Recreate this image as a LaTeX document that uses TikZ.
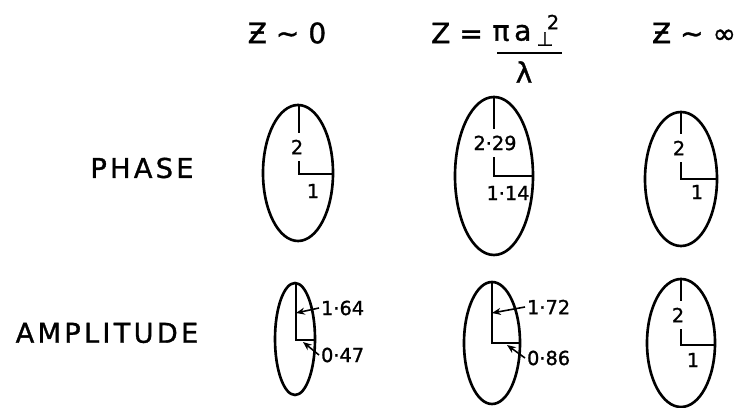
\documentclass[tikz,border=0pt]{standalone}
\usepackage{fontspec}
\setmainfont[FakeBold=1.2]{DejaVu Sans}
\newfontfamily\wideface[LetterSpace=12,FakeBold=1.2]{DejaVu Sans}
\usetikzlibrary{arrows.meta,positioning}

\begin{document}
\begin{tikzpicture}[
  x=0.02cm, y=-0.02cm,
  >={Stealth[length=5pt,width=4pt]},
  rim/.style={line width=1.5pt},
  axis/.style={line width=1.1pt},
  rowlabel/.style={font=\wideface\fontsize{15.5}{18}\selectfont},
  head/.style={font=\fontsize{16}{19}\selectfont},
  num/.style={font=\fontsize{11}{13}\selectfont, inner sep=1pt},
  gap/.style={num, fill=white, inner ysep=4pt},
  pointer/.style={->, line width=0.9pt}
]
\useasboundingbox (0,0) rectangle (746,408);

% 見出し
\node[head] (hnear) at (287,33) {Ƶ ∼ 0};
\node[head] (heq) at (457,33) {Z =};
\node[head] (hnum) at (512,33) {π\,a};
\node[num] (hsup) at (553,22) {2};
\node[num] (hperp) at (545,39) {⊥};
\node[head] (hlam) at (524,72) {λ};
\draw[axis] (497,53) -- (562,53);
\node[head] (hfar) at (694,33) {Ƶ ∼ ∞};

\node[rowlabel] (phase) at (142,168) {PHASE};
\node[rowlabel] (ampl) at (107,333) {AMPLITUDE};

% 位相
\begin{scope}[shift={(298,173)}]
  \draw[rim] (0,0) ellipse [x radius=35, y radius=68];
  \draw[axis] (1,-68) -- (1,1) -- (35,1);
  \node[gap] (pA2) at (-1,-26) {2};
  \node[num] (pA1) at (15,18) {1};
\end{scope}

\begin{scope}[shift={(494,176)}]
  \draw[rim] (0,0) ellipse [x radius=39, y radius=79];
  \draw[axis] (0,-79) -- (0,0) -- (39,0);
  \node[gap] (pB2) at (1,-33) {2·29};
  \node[num] (pB1) at (14,17) {1·14};
\end{scope}

\begin{scope}[shift={(681,179)}]
  \draw[rim] (0,0) ellipse [x radius=36, y radius=67];
  \draw[axis] (0,-67) -- (0,0) -- (36,0);
  \node[gap] (pC2) at (-2,-31) {2};
  \node[num] (pC1) at (16,13) {1};
\end{scope}

% 振幅
\begin{scope}[shift={(295,339)}]
  \draw[rim] (0,0) ellipse [x radius=20, y radius=56];
  \draw[axis] (1,-56) -- (1,1) -- (20,1);
  \coordinate (aAv) at (1,-26);
  \coordinate (aAh) at (8,3);
  \node[num, anchor=west] (aA2) at (24,-31) {1·64};
  \node[num, anchor=west] (aA1) at (24,16) {0·47};
\end{scope}
\draw[pointer] (aA2.west) -- (aAv);
\draw[pointer] (aA1.west) -- (aAh);

\begin{scope}[shift={(492,343)}]
  \draw[rim] (0,0) ellipse [x radius=28, y radius=61];
  \draw[axis] (0,-61) -- (0,0) -- (27,0);
  \coordinate (aBv) at (0,-30);
  \coordinate (aBh) at (15,2);
  \node[num, anchor=west] (aB2) at (33,-36) {1·72};
  \node[num, anchor=west] (aB1) at (33,15) {0·86};
\end{scope}
\draw[pointer] (aB2.west) -- (aBv);
\draw[pointer] (aB1.west) -- (aBh);

\begin{scope}[shift={(681,343)}]
  \draw[rim] (0,0) ellipse [x radius=34, y radius=64];
  \draw[axis] (0,-64) -- (0,2) -- (34,2);
  \node[gap] (aC2) at (-3,-28) {2};
  \node[num] (aC1) at (12,17) {1};
\end{scope}
\end{tikzpicture}
\end{document}
